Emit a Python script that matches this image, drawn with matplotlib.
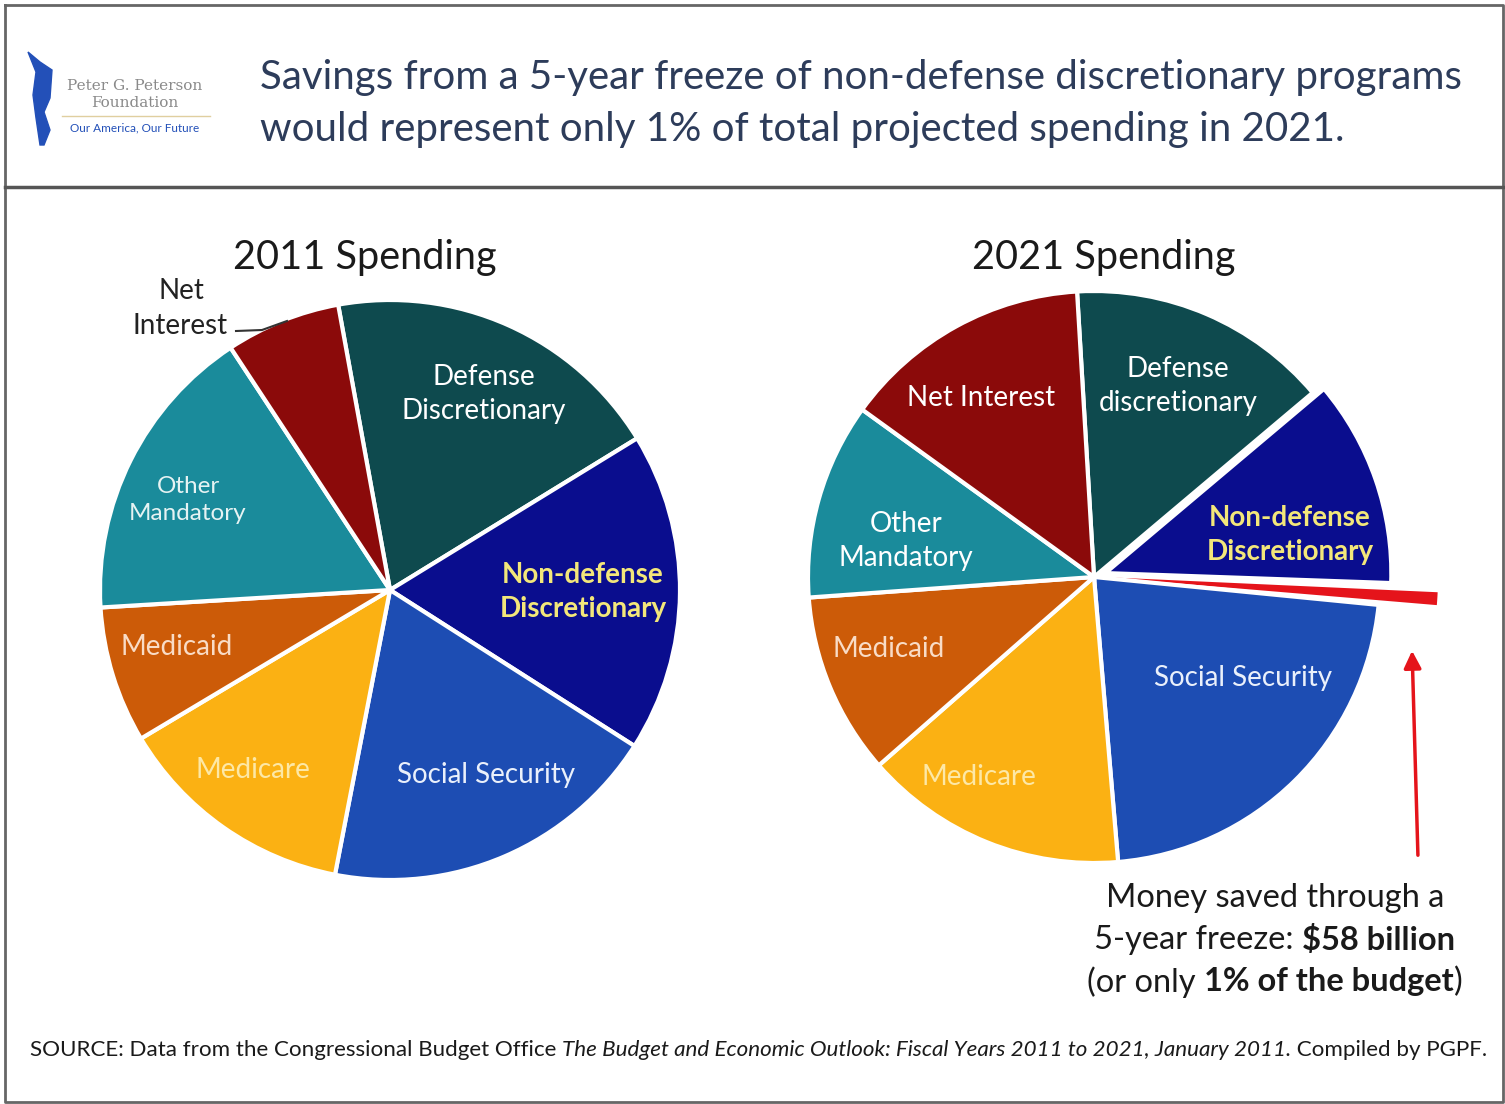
import numpy as np
import matplotlib.pyplot as plt
from matplotlib.patches import Polygon

plt.rcParams['font.family'] = ['Lato', 'DejaVu Sans']

# shares of total spending (%), clockwise from the top
labels_2011 = ['Defense Discretionary', 'Non-defense Discretionary', 'Social Security',
               'Medicare', 'Medicaid', 'Other Mandatory', 'Net Interest']
share_2011 = [19.1, 17.8, 19.0, 13.4, 7.6, 16.7, 6.4]

labels_2021 = ['Defense discretionary', 'Non-defense Discretionary', 'Freeze savings',
               'Social Security', 'Medicare', 'Medicaid', 'Other Mandatory', 'Net Interest']
share_2021 = [14.8, 11.7, 1.0, 22.1, 14.9, 10.3, 11.1, 14.1]

colors = {
    'Defense': '#0e4a4e',
    'Non-defense': '#0a0d8e',
    'Freeze': '#e5141b',
    'Social': '#1d4db3',
    'Medicare': '#fbb113',
    'Medicaid': '#cc5b08',
    'Other': '#1a8b9b',
    'Net': '#8b0a0a',
}

W, H = 1505, 1104
fig = plt.figure(figsize=(W / 100, H / 100), dpi=100)
ax = fig.add_axes([0, 0, 1, 1])


def Y(y):
    return H - y


def col(labels):
    return [colors['Non-defense'] if l.startswith('Non') else colors[l.split()[0]] for l in labels]


# ---- pies
w11, _ = ax.pie(share_2011, colors=col(labels_2011), startangle=100.3, counterclock=False,
                center=(390, Y(590)), radius=290, frame=True,
                wedgeprops=dict(edgecolor='white', linewidth=3))

w21, _ = ax.pie(share_2021, colors=col(labels_2021), startangle=93.4, counterclock=False,
                center=(1094, Y(577)), radius=286, frame=True,
                wedgeprops=dict(edgecolor='white', linewidth=3))

# pull the non-defense slice out a little, and turn the savings slice into a long red sliver
cx, cy = 1094, Y(577)
nd = w21[1]
mid = np.deg2rad((nd.theta1 + nd.theta2) / 2)
nd.set_center((cx + 12 * np.cos(mid), cy + 12 * np.sin(mid)))
sv = w21[2]
m = (sv.theta1 + sv.theta2) / 2
sv.set_theta1(m - 1.0)
sv.set_theta2(m + 1.2)
sv.set_radius(336)
sv.set_linewidth(0)
sv.set_center((cx + 8, cy))


# ---- labels inside pies
def lab(x, y, s, c='white', size=20, weight='normal'):
    ax.text(x, Y(y), s, ha='center', va='center', fontsize=size, color=c,
            fontweight=weight, linespacing=1.35)


lab(484, 394, 'Defense\nDiscretionary')
lab(583, 592, 'Non-defense\nDiscretionary', c='#f3e77a', weight='bold')
lab(188, 500, 'Other\nMandatory', c='#e6f3f3', size=17.5)
lab(177, 647, 'Medicaid', c='#f9dcc6')
lab(253, 770, 'Medicare', c='#fde8a6')
lab(486, 775, 'Social Security', c='#eaf0fb')
lab(181, 291, 'Net', c='#222222')
lab(180, 326, 'Interest', c='#222222')
ax.plot([236, 262, 287], [Y(331), Y(330), Y(321)], color='#333333', lw=1.5)

lab(981, 398, 'Net Interest')
lab(1178, 386, 'Defense\ndiscretionary')
lab(1290, 535, 'Non-defense\nDiscretionary', c='#f3e77a', weight='bold')
lab(906, 541, 'Other\nMandatory')
lab(889, 649, 'Medicaid', c='#f9dcc6')
lab(979, 777, 'Medicare', c='#fde8a6')
lab(1243, 678, 'Social Security', c='#eaf0fb')

ax.text(365, Y(258), '2011 Spending', ha='center', va='center', fontsize=28.5, color='#1a1a1a')
ax.text(1104, Y(258), '2021 Spending', ha='center', va='center', fontsize=28.5, color='#1a1a1a')

# ---- red arrow + note
ax.annotate('', xy=(1412, Y(648)), xytext=(1418, Y(858)),
            arrowprops=dict(arrowstyle='-|>', color='#e5141b', lw=2.5, mutation_scale=26))

renderer = fig.canvas.get_renderer()


def rich(pieces, x, y, size, ha='center'):
    texts = []
    widths = []
    for s, wt, st in pieces:
        t = ax.text(0, Y(y), s, fontsize=size, fontweight=wt, fontstyle=st,
                    color='#1a1a1a', va='center', ha='left')
        texts.append(t)
        # width with spaces counted
        probe = ax.text(0, 0, 'x' + s + 'x', fontsize=size, fontweight=wt, fontstyle=st)
        xx = ax.text(0, 0, 'xx', fontsize=size, fontweight=wt, fontstyle=st)
        widths.append(probe.get_window_extent(renderer).width - xx.get_window_extent(renderer).width)
        probe.remove()
        xx.remove()
    start = x - sum(widths) / 2 if ha == 'center' else x
    for t, w in zip(texts, widths):
        t.set_x(start)
        start += w


rich([('Money saved through a', 'normal', 'normal')], 1275, 898, 23.5)
rich([('5-year freeze: ', 'normal', 'normal'), (r'\$58 billion', 'bold', 'normal')], 1275, 940, 23.5)
rich([('(or only ', 'normal', 'normal'), ('1% of the budget', 'bold', 'normal'),
      (')', 'normal', 'normal')], 1275, 982, 23.5)

# ---- source line
rich([('SOURCE: Data from the Congressional Budget Office ', 'normal', 'normal'),
      ('The Budget and Economic Outlook: Fiscal Years 2011 to 2021, January 2011.', 'normal', 'italic'),
      (' Compiled by PGPF.', 'normal', 'normal')], 30, 1050, 16.1, ha='left')

# ---- header
ax.text(260, Y(78), 'Savings from a 5-year freeze of non-defense discretionary programs',
        ha='left', va='center', fontsize=29, color='#2d3c5a')
ax.text(260, Y(130), 'would represent only 1% of total projected spending in 2021.',
        ha='left', va='center', fontsize=29, color='#2d3c5a')

# logo
ax.add_patch(Polygon([(28, Y(52)), (40, Y(62)), (52, Y(70)), (50, Y(98)), (44, Y(112)),
                      (50, Y(130)), (44, Y(145)), (40, Y(145)), (36, Y(118)), (33, Y(95)),
                      (36, Y(72))], closed=True, color='#2350b8'))
ax.text(135, Y(86), 'Peter G. Peterson', ha='center', va='center', fontsize=11,
        color='#8a8a8a', family='DejaVu Serif')
ax.text(135, Y(103), 'Foundation', ha='center', va='center', fontsize=11,
        color='#8a8a8a', family='DejaVu Serif')
ax.plot([62, 210], [Y(116), Y(116)], color='#e0cfa0', lw=1)
ax.text(135, Y(128), 'Our America, Our Future', ha='center', va='center', fontsize=8.5,
        color='#2350b8')

# frame
ax.plot([5, 1503, 1503, 5, 5], [Y(5), Y(5), Y(1102), Y(1102), Y(5)], color='#666666', lw=2)
ax.plot([5, 1503], [Y(187), Y(187)], color='#555555', lw=2.5)

ax.set_xlim(0, W)
ax.set_ylim(0, H)
ax.set_axis_off()

plt.savefig('out.png', dpi=100)
